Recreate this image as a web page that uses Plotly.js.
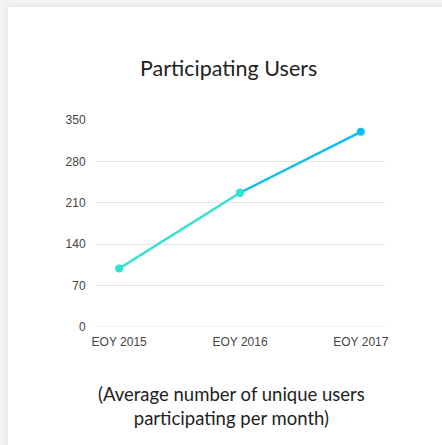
<!DOCTYPE html>
<html>
<head>
<meta charset="utf-8">
<script src="https://cdn.plot.ly/plotly-3.0.1.min.js"></script>
<style>
html,body{margin:0;padding:0;background:#f4f4f4;width:442px;height:445px;overflow:hidden;}
#card{position:absolute;left:8px;top:7px;width:450px;height:460px;background:#fff;box-shadow:0 0 8px rgba(0,0,0,0.10);}
#chart{position:absolute;left:0;top:0;width:442px;height:445px;}
</style>
</head>
<body>
<div id="card"></div>
<div id="chart"></div>
<script>
const categories = ["EOY 2015", "EOY 2016", "EOY 2017"];
const users = [99, 227, 330];
const yTicks = [0, 70, 140, 210, 280, 350];
const chartTitle = "Participating Users";
const subtitleLines = ["(Average number of unique users", "participating per month)"];

const tealColor = "#2fe2d2";
const blueColor = "#0dbfee";

const traces = [
  {
    x: categories.slice(0, 2), y: users.slice(0, 2),
    type: "scatter", mode: "lines+markers",
    line: {color: tealColor, width: 2.5},
    marker: {color: tealColor, size: 8},
    hoverinfo: "x+y", showlegend: false
  },
  {
    x: categories.slice(1, 3), y: users.slice(1, 3),
    type: "scatter", mode: "lines+markers",
    line: {color: blueColor, width: 2.5},
    marker: {color: [tealColor, blueColor], size: 8},
    hoverinfo: "x+y", showlegend: false
  }
];

const layout = {
  width: 442, height: 445,
  margin: {l: 95, r: 57, t: 120, b: 118},
  paper_bgcolor: "rgba(0,0,0,0)",
  plot_bgcolor: "rgba(0,0,0,0)",
  font: {family: "Liberation Sans, Arial, sans-serif", size: 12, color: "#444"},
  xaxis: {
    type: "category", categoryorder: "array", categoryarray: categories,
    range: [-0.2, 2.2], showgrid: false, zeroline: false, showline: false,
    ticks: "outside", ticklen: 4, tickcolor: "rgba(0,0,0,0)",
    tickfont: {size: 12, color: "#444"}, fixedrange: true
  },
  yaxis: {
    range: [0, 350], tickvals: yTicks, ticktext: yTicks.map(String),
    showgrid: true, gridcolor: "#e4e4e4", gridwidth: 1,
    zeroline: false, showline: false, ticks: "outside", ticklen: 6, tickcolor: "rgba(0,0,0,0)",
    tickfont: {size: 12, color: "#444"}, fixedrange: true
  },
  shapes: [{type: "line", xref: "paper", yref: "y", x0: 0, x1: 1, y0: 0, y1: 0, line: {color: "#e4e4e4", width: 1}}],
  annotations: [
    {text: chartTitle, xref: "paper", yref: "paper", x: (228 - 95) / 290, y: 1 + (120 - 68) / 207,
     xanchor: "center", yanchor: "middle", showarrow: false,
     font: {family: "Lato, sans-serif", size: 21.5, color: "#222"}},
    {text: subtitleLines.join("<br>"), xref: "paper", yref: "paper", x: (231 - 95) / 290, y: -(406 - 327) / 207,
     xanchor: "center", yanchor: "middle", showarrow: false, align: "center",
     font: {family: "Lato, sans-serif", size: 18.5, color: "#222"}}
  ]
};

Plotly.newPlot("chart", traces, layout, {displayModeBar: false, staticPlot: true});
</script>
</body>
</html>
